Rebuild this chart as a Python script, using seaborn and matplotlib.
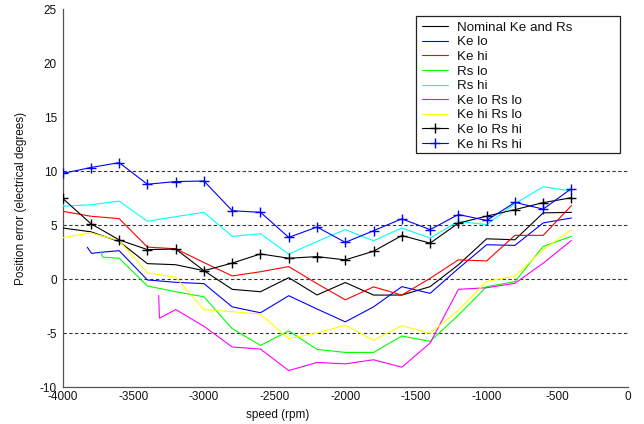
import matplotlib
matplotlib.use("Agg")
import matplotlib.pyplot as plt
import matplotlib.patches as mpatches
import seaborn as sns
import numpy as np

# ---------------- data ----------------
speed = [-4000, -3800, -3600, -3400, -3200, -3000, -2800, -2600, -2400, -2200,
         -2000, -1800, -1600, -1400, -1200, -1000, -800, -600, -400]

nominal = [4.75, 4.4, 3.5, 1.45, 1.35, 0.8, -0.93, -1.15, 0.15, -1.45,
           -0.3, -1.46, -1.46, -0.68, 1.34, 3.75, 3.66, 6.15, 6.2]

ke_lo_speed = [-3825, -3795, -3730, -3600, -3400, -3200, -3000, -2800, -2600, -2400,
               -2200, -2000, -1800, -1600, -1400, -1200, -1000, -800, -600, -400]
ke_lo = [2.96, 2.4, 2.5, 2.65, -0.06, -0.28, -0.4, -2.55, -3.1, -1.52,
         -2.75, -3.94, -2.55, -0.68, -1.3, 1.0, 3.2, 3.14, 5.22, 5.68]

ke_hi = [6.3, 5.84, 5.62, 2.98, 2.83, 1.55, 0.31, 0.7, 1.18, -0.4,
         -1.9, -0.7, -1.46, 0.09, 1.8, 1.7, 4.07, 4.07, 6.83]

rs_lo_speed = [-3730, -3715, -3600, -3400, -3200, -3000, -2800, -2600, -2400, -2200,
               -2000, -1800, -1600, -1400, -1200, -1000, -800, -600, -400]
rs_lo = [2.5, 2.05, 1.95, -0.62, -1.15, -1.62, -4.57, -6.12, -4.78, -6.49,
         -6.77, -6.77, -5.25, -5.75, -3.32, -0.68, -0.22, 3.04, 3.98]

rs_hi = [6.77, 6.9, 7.24, 5.37, 5.8, 6.2, 3.98, 4.22, 2.33, 3.5,
         4.6, 3.57, 4.75, 3.82, 5.37, 5.06, 7.0, 8.57, 8.17]

ke_lo_rs_lo_speed = [-3320, -3315, -3200, -3000, -2800, -2600, -2400, -2200,
                     -2000, -1800, -1600, -1400, -1200, -1000, -800, -600, -400]
ke_lo_rs_lo = [-1.5, -3.6, -2.8, -4.35, -6.27, -6.46, -8.45, -7.7,
               -7.83, -7.45, -8.14, -5.9, -0.93, -0.78, -0.37, 1.49, 3.6]

ke_hi_rs_lo = [3.85, 4.3, 3.58, 0.6, 0.2, -2.8, -3.0, -3.23, -5.5, -4.97,
               -4.25, -5.65, -4.3, -5.0, -2.86, -0.2, 0.31, 2.73, 4.6]

ke_lo_rs_hi = [7.5, 5.15, 3.65, 2.75, 2.8, 0.8, 1.5, 2.35, 1.95, 2.1,
               1.8, 2.6, 4.05, 3.35, 5.2, 5.85, 6.45, 7.1, 7.55]

ke_hi_rs_hi = [9.8, 10.35, 10.8, 8.8, 9.05, 9.1, 6.35, 6.2, 3.88, 4.84,
               3.42, 4.5, 5.6, 4.6, 6.0, 5.45, 7.12, 6.5, 8.4]

ref_levels = [-5, 0, 5, 10]
x_ticks = [-4000, -3500, -3000, -2500, -2000, -1500, -1000, -500, 0]
y_ticks = [-10, -5, 0, 5, 10, 15, 20, 25]

series = [
    ("Nominal Ke and Rs", speed, nominal, "#000000", None),
    ("Ke lo", ke_lo_speed, ke_lo, "#0000ff", None),
    ("Ke hi", speed, ke_hi, "#ff0000", None),
    ("Rs lo", rs_lo_speed, rs_lo, "#00ff00", None),
    ("Rs hi", speed, rs_hi, "#00ffff", None),
    ("Ke lo Rs lo", ke_lo_rs_lo_speed, ke_lo_rs_lo, "#ff00ff", None),
    ("Ke hi Rs lo", speed, ke_hi_rs_lo, "#ffff00", None),
    ("Ke lo Rs hi", speed, ke_lo_rs_hi, "#000000", "+"),
    ("Ke hi Rs hi", speed, ke_hi_rs_hi, "#0000ff", "+"),
]

# ---------------- plot ----------------
sns.set_style("white")
plt.rcParams["font.family"] = ["Liberation Sans", "DejaVu Sans"]

W, H = 644, 424
fig = plt.figure(figsize=(W / 100, H / 100), dpi=100)
ax = fig.add_axes([62.6 / W, 1 - 387.3 / H, (628 - 62.6) / W, (387.3 - 9.3) / H])

for lvl in ref_levels:
    ax.axhline(lvl, color="#333333", lw=0.8, linestyle=(0, (3, 2.2)), zorder=1)

for name, xs, ys, col, mk in series:
    kw = {}
    if mk:
        kw = dict(marker=mk, markersize=7, markeredgewidth=1.0,
                  markeredgecolor=col)
    sns.lineplot(x=xs, y=ys, ax=ax, color=col, lw=0.8, sort=False,
                 estimator=None, label=name, zorder=3, **kw)

ax.set_xlim(-4000, 0)
ax.set_ylim(-10, 25)
ax.set_xticks(x_ticks)
ax.set_yticks(y_ticks)
ax.set_xticklabels([str(v) for v in x_ticks])
ax.set_yticklabels([str(v) for v in y_ticks])

for s in ["top", "right"]:
    ax.spines[s].set_visible(False)
for s in ["left", "bottom"]:
    ax.spines[s].set_color("#555555")
    ax.spines[s].set_linewidth(0.9)

ax.tick_params(axis="both", direction="in", length=4, width=0.8,
               color="#555555", labelsize=8.5, labelcolor="#111111")
ax.tick_params(axis="x", pad=2.5)
ax.tick_params(axis="y", pad=4)

ax.set_xlabel("speed (rpm)", fontsize=8.5, color="#111111")
ax.set_ylabel("Position error (electrical degrees)", fontsize=8.5, color="#111111")
ax.xaxis.set_label_coords((277.5 - 62.6) / (628 - 62.6), -(409 - 387.3) / 378)
ax.yaxis.set_label_coords(-(62.6 - 27) / (628 - 62.6), 0.5)

# legend box (MATLAB-style, wider than its contents)
rect = mpatches.Rectangle((416 / W, 1 - 153 / H), (620 - 416) / W, (153 - 16) / H,
                          transform=fig.transFigure, facecolor="white",
                          edgecolor="#222222", lw=0.9, zorder=4.5, clip_on=False)
ax.add_patch(rect)
leg = ax.legend(loc="upper left", bbox_to_anchor=(422 / W, 1 - 21.5 / H),
                bbox_transform=fig.transFigure, frameon=False, fontsize=9.6,
                borderpad=0, borderaxespad=0, handlelength=1.95,
                handletextpad=0.7, labelspacing=0.17)
leg.set_zorder(5)
for t in leg.get_texts():
    t.set_color("#111111")

fig.savefig("out.png", dpi=100)
